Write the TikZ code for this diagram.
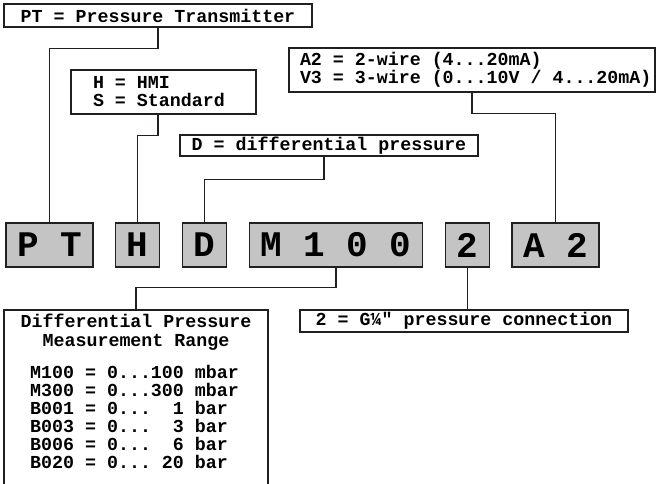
\documentclass[tikz,border=0pt]{standalone}
\usepackage{fontspec}
\setmonofont{Liberation Mono}[WordSpace={1,0,0}]
\usetikzlibrary{positioning}
\definecolor{codegray}{RGB}{196,196,196}
\definecolor{linedark}{RGB}{35,31,32}

\begin{document}
\begin{tikzpicture}[
    x=1pt, y=-1pt,
    node distance=21.5pt,
    infobox/.style={rectangle, draw=linedark, line width=1.3pt, inner sep=0pt,
                    font=\fontsize{18.3}{18}\selectfont\ttfamily\bfseries},
    codebox/.style={rectangle, draw=linedark, line width=1.3pt, fill=codegray,
                    minimum width=44pt, minimum height=44pt, inner sep=0pt,
                    font=\fontsize{36}{36}\selectfont\ttfamily\bfseries},
    link/.style={line width=1.3pt, linedark}
]
\clip (0,0) rectangle (656,483);

% order code
\node[codebox, minimum width=87pt] (cPT) at (49.5,245) {P T};
\node[codebox, right=of cPT] (cH) {H};
\node[codebox, right=of cH] (cD) {D};
\node[codebox, right=of cD, minimum width=173pt] (cM) {M 1 0 0};
\node[codebox, right=of cM] (c2) {2};
\node[codebox, right=of c2, minimum width=87pt] (cA) {A 2};

% explanations
\node[infobox, minimum width=308pt, minimum height=23pt] (pt) at (158,15.5) {PT = Pressure Transmitter};
\node[infobox, minimum width=185pt, minimum height=44pt, text width=141pt, align=left] (hmi) at (163.5,92)
    {\spaceskip=0pt\relax H = HMI\\S = Standard};
\node[infobox, minimum width=298pt, minimum height=21pt] (dp) at (329,145.5) {D = differential pressure};
\node[infobox, minimum width=366pt, minimum height=44pt, text width=344pt, align=left] (sig) at (472,70)
    {\spaceskip=0pt\relax A2 = 2-wire (4...20mA)\\\mbox{V3 = 3-wire (0...10V / 4...20mA)}};
\node[infobox, minimum width=328pt, minimum height=22pt] (conn) at (464,321) {2 = G¼″ pressure connection};
\node[infobox, minimum width=264pt, minimum height=185pt] (rng) at (136,402.5) {};
\node[align=center, inner sep=0pt, font=\fontsize{18.3}{19}\selectfont\ttfamily\bfseries]
    (rngtitle) at (136,332.5) {Differential Pressure\\Measurement Range};
\node[anchor=west, align=left, inner sep=0pt, font=\fontsize{18.3}{18}\selectfont\ttfamily\bfseries]
    (rnglist) at (30,417) {M100 = 0...100 mbar\\M300 = 0...300 mbar\\B001 = 0...~~1 bar\\
    B003 = 0...~~3 bar\\B006 = 0...~~6 bar\\B020 = 0...~20 bar};

% connectors
\draw[link] (pt.south) -- ++(0,21) -| (cPT.north);
\draw[link] (hmi.south -| pt.south) -- ++(0,21) -| (cH.north);
\draw[link] ([xshift=-5pt]dp.south) -- ++(0,23) -| (cD.north);
\draw[link] (sig.south) -- ++(0,21) -| (cA.north);
\draw[link] (cM.south) -- ++(0,20) -| (rng.north);
\draw[link] (c2.south) -- (c2.south |- conn.north);
\end{tikzpicture}
\end{document}
